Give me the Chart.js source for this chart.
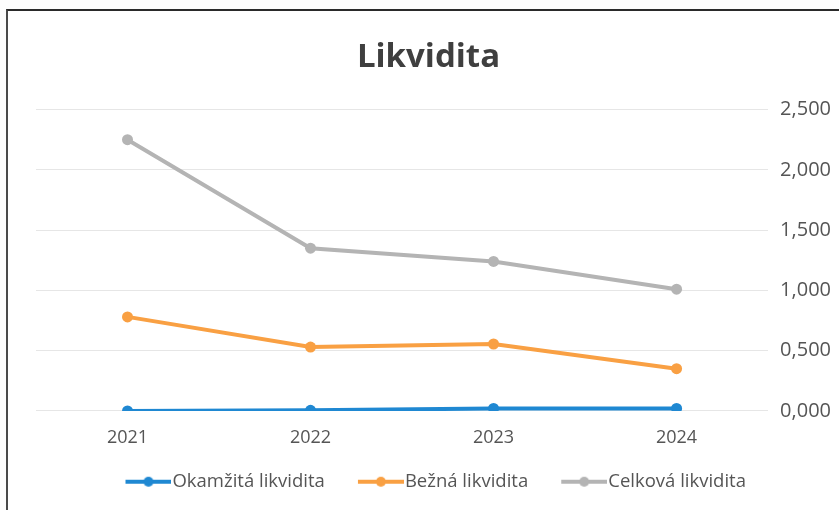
<!DOCTYPE html>
<html>
<head>
<meta charset="utf-8">
<script src="https://cdn.jsdelivr.net/npm/chart.js@4"></script>
<style>
  html, body { margin: 0; padding: 0; background: #fdfdfd; }
  #frame {
    position: absolute; left: 6px; top: 9px; width: 833px; height: 501px;
    border-top: 2px solid #2a2a2a; border-left: 2px solid #4a4a4a;
    background: #ffffff; box-sizing: border-box;
  }
  #wrap { position: absolute; left: 0; top: 0; width: 831px; height: 499px; }
</style>
</head>
<body>
<div id="frame"><div id="wrap"><canvas id="chart"></canvas></div></div>
<script>
const years = ['2021', '2022', '2023', '2024'];
const okamzita = [0.00, 0.005, 0.02, 0.02];
const bezna = [0.78, 0.53, 0.555, 0.35];
const celkova = [2.25, 1.35, 1.24, 1.01];
const yTicks = [0, 0.5, 1, 1.5, 2, 2.5];

const colors = ['#1f88d2', '#f9a043', '#b4b4b4'];

// legend marker: short line with a dot in the middle (blank space on the left)
function legendMarker(color) {
    const c = document.createElement('canvas');
    c.width = 59; c.height = 12;
    const g = c.getContext('2d');
    g.strokeStyle = color; g.lineWidth = 4;
    g.beginPath(); g.moveTo(13, 6); g.lineTo(59, 6); g.stroke();
    g.fillStyle = color;
    g.beginPath(); g.arc(36, 6, 5, 0, Math.PI * 2); g.fill();
    return c;
}

function makeSet(label, data, color) {
    return {
        label: label,
        data: data,
        borderColor: color,
        backgroundColor: color,
        borderWidth: 4,
        pointRadius: 5.5,
        pointHoverRadius: 5.5,
        pointBackgroundColor: color,
        pointBorderWidth: 0,
        tension: 0
    };
}

new Chart(document.getElementById('chart').getContext('2d'), {
    type: 'line',
    data: {
        labels: years,
        datasets: [
            makeSet('Okamžitá likvidita', okamzita, colors[0]),
            makeSet('Bežná likvidita', bezna, colors[1]),
            makeSet('Celková likvidita', celkova, colors[2])
        ]
    },
    options: {
        responsive: true,
        maintainAspectRatio: false,
        animation: false,
        layout: { padding: { left: 28, right: -4, top: 27, bottom: 9 } },
        plugins: {
            title: {
                display: true,
                // trailing space nudges the title a little left, like the original
                text: 'Likvidita\u2002\u2009',
                color: '#3f3f3f',
                font: { family: 'Open Sans', size: 33, weight: 'bold' },
                padding: { top: 0, bottom: 32 }
            },
            legend: {
                position: 'bottom',
                labels: {
                    usePointStyle: true,
                    pointStyleWidth: 42.5,
                    color: '#555555',
                    font: { family: 'Open Sans', size: 18.5 },
                    padding: 16,
                    generateLabels(chart) {
                        const items = Chart.defaults.plugins.legend.labels.generateLabels(chart);
                        items.forEach((it, i) => {
                            it.pointStyle = legendMarker(colors[i]);
                            it.text = it.text + '\u2002\u2009';
                        });
                        return items;
                    }
                }
            },
            tooltip: { enabled: false }
        },
        scales: {
            x: {
                offset: true,
                grid: { display: false },
                border: { display: false },
                ticks: { color: '#555555', font: { family: 'Open Sans', size: 18 }, padding: 8 }
            },
            y: {
                position: 'right',
                min: 0,
                max: 2.5,
                afterBuildTicks(axis) { axis.ticks = yTicks.map(v => ({ value: v })); },
                grid: { color: '#e6e6e6', lineWidth: 1, drawTicks: false },
                border: { display: false },
                ticks: {
                    color: '#555555',
                    font: { family: 'Open Sans', size: 20 },
                    padding: 12,
                    callback: v => v.toFixed(3).replace('.', ',')
                }
            }
        }
    }
});
</script>
</body>
</html>
